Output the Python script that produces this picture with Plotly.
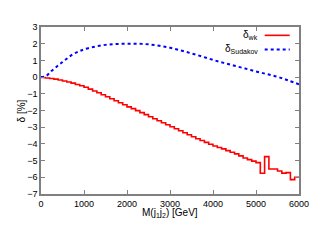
import plotly.graph_objects as go

# Bin edges (GeV) for the delta_wk histogram (100 GeV bins)
bin_lo = list(range(0, 6000, 100))
bin_hi_last = 6000

# delta_wk [%] per bin
delta_wk = [
    -0.02, -0.05, -0.08, -0.12, -0.17, -0.23, -0.29, -0.36, -0.44, -0.52,
    -0.61, -0.72, -0.83, -0.94, -1.06, -1.18, -1.30, -1.42, -1.54, -1.66,
    -1.78, -1.89, -2.01, -2.13, -2.25, -2.37, -2.49, -2.61, -2.73, -2.85,
    -2.97, -3.09, -3.21, -3.33, -3.45, -3.57, -3.69, -3.80, -3.91, -4.02,
    -4.13, -4.22, -4.30, -4.40, -4.50, -4.60, -4.72, -4.84, -4.94, -5.03,
    -5.12, -5.76, -4.76, -5.50, -5.50, -5.62, -5.75, -5.72, -6.14, -6.00,
]

# delta_Sudakov [%] curve
sud_m = [0, 125, 250, 400, 500, 625, 750, 900, 1000, 1250, 1500, 1750, 2000,
         2250, 2500, 2750, 3000, 3250, 3500, 3750, 4000, 4250, 4500, 4750,
         5000, 5250, 5500, 5750, 6000]
sud_delta = [0.0, 0.08, 0.38, 0.70, 0.90, 1.15, 1.38, 1.56, 1.66, 1.82, 1.93,
             1.98, 2.0, 2.0, 1.96, 1.88, 1.76, 1.60, 1.42, 1.23, 1.03, 0.85,
             0.68, 0.51, 0.34, 0.18, 0.02, -0.20, -0.43]

x_ticks = [0, 1000, 2000, 3000, 4000, 5000, 6000]
y_ticks = [3, 2, 1, 0, -1, -2, -3, -4, -5, -6, -7]

FONT = "Liberation Sans, Arial, sans-serif"
GRAY = "#808080"

fig = go.Figure()
fig.add_trace(go.Scatter(
    x=bin_lo + [bin_hi_last], y=delta_wk + [delta_wk[-1]],
    mode="lines", line=dict(color="#ff0000", width=1.6, shape="hv"),
    name="δ<sub>wk</sub>", showlegend=False))
fig.add_trace(go.Scatter(
    x=sud_m, y=sud_delta, mode="lines",
    line=dict(color="#0000ff", width=2, dash="3px,3px", shape="spline"),
    name="δ<sub>Sudakov</sub>", showlegend=False))

axis_common = dict(showline=True, mirror="ticks", linecolor=GRAY, linewidth=1.5,
                   ticks="inside", ticklen=4, tickcolor=GRAY, tickwidth=1,
                   showgrid=False, zeroline=False, automargin=False,
                   tickfont=dict(family=FONT, size=9, color="#000000"))

# the page body has an 8px margin, so the figure is 8px smaller and
# its top/left margins are 8px smaller to keep the plot area in place
fig.update_layout(
    width=311, height=239,
    margin=dict(l=33, r=20, t=19, b=53),
    paper_bgcolor="white", plot_bgcolor="white",
    font=dict(family=FONT, size=10, color="#000000"),
    xaxis=dict(range=[0, 6000], tickvals=x_ticks, **axis_common),
    yaxis=dict(range=[-7, 3], tickvals=y_ticks, **axis_common),
    showlegend=False,
)

# axis titles
fig.add_annotation(x=0.5, y=-0.116, xref="paper", yref="paper",
                   text="M(j<sub>1</sub>j<sub>2</sub>) [GeV]", showarrow=False,
                   xanchor="center", yanchor="middle",
                   font=dict(family=FONT, size=10, color="#000000"))
fig.add_annotation(x=-0.074, y=0.5, xref="paper", yref="paper",
                   text="δ [%]", showarrow=False, textangle=-90,
                   xanchor="center", yanchor="middle",
                   font=dict(family=FONT, size=10, color="#000000"))

# gnuplot-style key: text on the left, sample on the right
legend_items = [("δ<sub>wk</sub>", "#ff0000", "solid", 0.95),
                ("δ<sub>Sudakov</sub>", "#0000ff", "3px,3px", 0.866)]
for label, color, dash, yp in legend_items:
    fig.add_annotation(x=0.848, y=yp, xref="paper", yref="paper", text=label,
                       showarrow=False, xanchor="right", yanchor="middle",
                       font=dict(family=FONT, size=10, color="#000000"))
    fig.add_shape(type="line", xref="paper", yref="paper", x0=0.867, x1=0.964,
                  y0=yp, y1=yp, line=dict(color=color, width=2 if dash != "solid" else 1.6, dash=dash))

fig.write_html("out.html")
